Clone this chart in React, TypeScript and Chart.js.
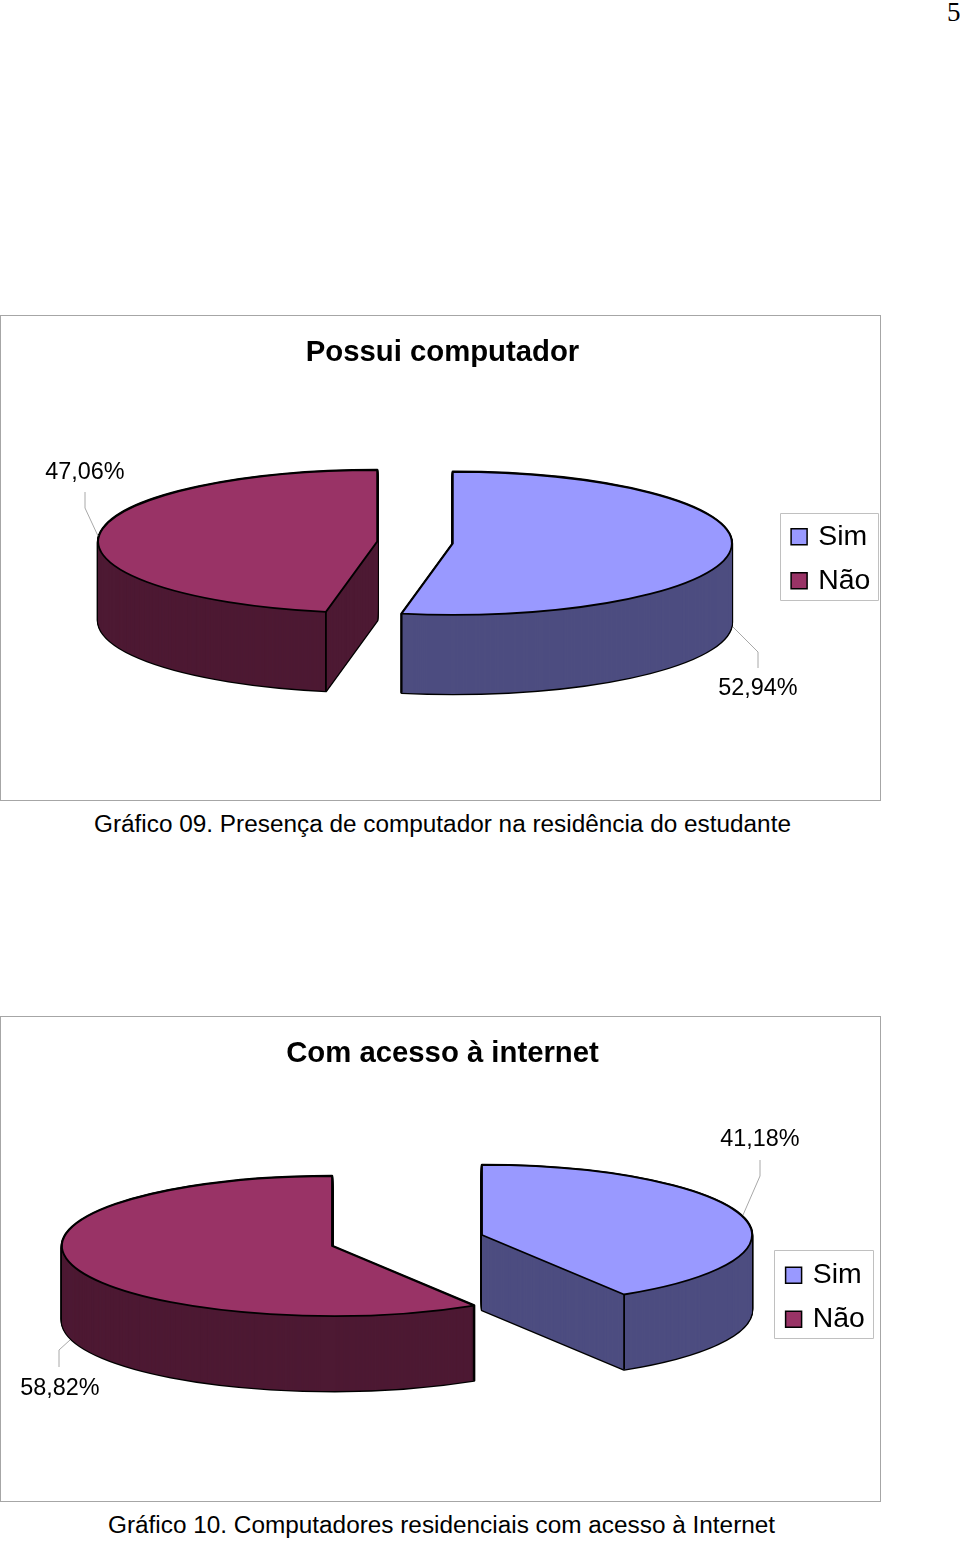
import React, { useEffect, useRef } from "react";
import { Chart, registerables } from "chart.js";

Chart.register(...registerables);

const categories = ["Sim", "Não"];
const computerValues = [52.94, 47.06];
const internetValues = [41.18, 58.82];
const sliceColors = ["#9999FF", "#993366"];
const sideColors = ["#4D4D80", "#4D1933"];
const FONT = "'Liberation Sans', Arial, sans-serif";

type Layout = {
  title: string;
  values: number[];
  top: number;
  cx: number;
  cy: number;
  radius: number;
  squash: number;
  depth: number;
  explode: number;
  titleShift: number;
  titleTop: number;
  legendLeft: number;
  legendTop: number;
  legendBox: number[];
  labels: { x: number; y: number; leader: number[][] }[];
};

const charts: Layout[] = [
  {
    title: "Possui computador",
    values: computerValues,
    top: 315,
    cx: 415,
    cy: 227.5,
    radius: 279,
    squash: 71.5 / 279,
    depth: 79,
    explode: 38,
    titleShift: 2,
    titleTop: 20.4,
    legendLeft: 778.5,
    legendTop: 192,
    legendBox: [780.5, 198.5, 98, 87],
    labels: [
      { x: 758, y: 374, leader: [[733, 312], [758, 337], [758, 353]] },
      { x: 85, y: 158, leader: [[85, 177], [85, 193], [98, 221]] },
    ],
  },
  {
    title: "Com acesso à internet",
    values: internetValues,
    top: 1016,
    cx: 407,
    cy: 224.5,
    radius: 270,
    squash: 70 / 270,
    depth: 75,
    explode: 78,
    titleShift: 2,
    titleTop: 20.4,
    legendLeft: 773,
    legendTop: 229.5,
    legendBox: [774.5, 234.5, 99, 88],
    labels: [
      { x: 760, y: 124, leader: [[760, 144], [760, 160], [743, 199]] },
      { x: 60, y: 373, leader: [[59, 351], [59, 334], [70, 324]] },
    ],
  },
];

function pie3d(cfg: Layout) {
  const place = (ctx: any, el: any, down: number) => {
    const mid = (el.startAngle + el.endAngle) / 2;
    ctx.translate(cfg.explode * Math.cos(mid), cfg.explode * Math.sin(mid) * cfg.squash + down);
    ctx.translate(0, el.y);
    ctx.scale(1, cfg.squash);
    ctx.translate(0, -el.y);
  };
  const trace = (ctx: any, el: any, down: number) => {
    ctx.save();
    place(ctx, el, down);
    ctx.beginPath();
    ctx.moveTo(el.x, el.y);
    ctx.arc(el.x, el.y, el.outerRadius, el.startAngle, el.endAngle);
    ctx.closePath();
    ctx.restore();
  };
  const fill = (ctx: any, el: any, down: number, color?: string) => {
    const saved = el.options;
    if (color) el.options = Object.assign(Object.create(saved), { backgroundColor: color });
    ctx.save();
    place(ctx, el, down);
    el.draw(ctx);
    ctx.restore();
    el.options = saved;
  };
  return {
    id: "pie3d",
    afterLayout(chart: any) {
      Object.assign(chart.chartArea, {
        left: 0,
        top: 0,
        right: cfg.cx * 2,
        bottom: cfg.cy * 2,
        width: cfg.cx * 2,
        height: cfg.cy * 2,
      });
      const t = chart.titleBlock;
      t.left += cfg.titleShift;
      t.right += cfg.titleShift;
      const l = chart.legend;
      l.left = cfg.legendLeft;
      l.right = cfg.legendLeft + 110;
      l.top = cfg.legendTop;
      l.bottom = cfg.legendTop + 110;
    },
    beforeDatasetDraw(chart: any, args: any) {
      const ctx = chart.ctx;
      ctx.lineJoin = "round";
      args.meta.data.forEach((el: any, i: number) => {
        ctx.strokeStyle = "#000";
        ctx.lineWidth = 2.6;
        for (let d = cfg.depth; d >= 0; d -= 1) {
          trace(ctx, el, d);
          ctx.stroke();
        }
        for (let d = cfg.depth; d >= 0; d -= 1) fill(ctx, el, d, sideColors[i]);
      });
      args.meta.data.forEach((el: any) => {
        ctx.strokeStyle = "#000";
        ctx.lineWidth = 1.8;
        const mid = (el.startAngle + el.endAngle) / 2;
        [el.startAngle, el.endAngle].forEach((a: number) => {
          if (Math.sin(a) <= 0) return;
          const x = el.x + cfg.explode * Math.cos(mid) + el.outerRadius * Math.cos(a);
          const y = el.y + cfg.squash * (cfg.explode * Math.sin(mid) + el.outerRadius * Math.sin(a));
          ctx.beginPath();
          ctx.moveTo(x, y);
          ctx.lineTo(x, y + cfg.depth);
          ctx.stroke();
        });
        fill(ctx, el, 0);
        trace(ctx, el, 0);
        ctx.stroke();
      });
      return false;
    },
    afterDraw(chart: any) {
      const ctx = chart.ctx;
      ctx.save();
      ctx.strokeStyle = "#c0c0c0";
      ctx.lineWidth = 1;
      const [bx, by, bw, bh] = cfg.legendBox;
      ctx.strokeRect(bx, by, bw, bh);
      cfg.labels.forEach((lab, i) => {
        ctx.strokeStyle = "#a8a8a8";
        ctx.lineWidth = 1;
        ctx.beginPath();
        lab.leader.forEach(([x, y], j) => (j ? ctx.lineTo(x, y) : ctx.moveTo(x, y)));
        ctx.stroke();
        ctx.fillStyle = "#000";
        ctx.font = `23.4px ${FONT}`;
        ctx.textAlign = "center";
        ctx.textBaseline = "middle";
        ctx.fillText(`${cfg.values[i].toFixed(2).replace(".", ",")}%`, lab.x, lab.y);
      });
      ctx.restore();
    },
  };
}

function Pie({ cfg }: { cfg: Layout }) {
  const ref = useRef<HTMLCanvasElement>(null);
  useEffect(() => {
    const chart = new Chart(ref.current as HTMLCanvasElement, {
      type: "doughnut",
      data: {
        labels: categories,
        datasets: [
          {
            data: cfg.values,
            backgroundColor: sliceColors,
            borderWidth: 0,
            clip: false,
          } as any,
        ],
      },
      options: {
        responsive: false,
        animation: false,
        cutout: 0,
        radius: cfg.radius,
        layout: { padding: 0 },
        plugins: {
          tooltip: { enabled: false },
          title: {
            display: true,
            text: cfg.title,
            color: "#000",
            font: { family: FONT, size: 29.3, weight: "bold" },
            padding: { top: cfg.titleTop, bottom: 0 },
          },
          legend: {
            position: "chartArea",
            align: "start",
            labels: {
              color: "#000",
              font: { family: FONT, size: 28.4 },
              usePointStyle: true,
              pointStyle: "rect",
              boxWidth: 10,
              boxHeight: 16,
              padding: 15.6,
              generateLabels: (c: any) =>
                (Chart as any).overrides.doughnut.plugins.legend.labels
                  .generateLabels(c)
                  .map((item: any) => ({ ...item, strokeStyle: "#000", lineWidth: 1.5 })),
            },
          },
        },
      } as any,
      plugins: [pie3d(cfg) as any],
    });
    return () => chart.destroy();
  }, [cfg]);
  return (
    <div
      style={{
        position: "absolute",
        left: 0,
        top: cfg.top,
        width: 881,
        height: 486,
        boxShadow: "inset 0 0 0 1px #a6a6a6",
      }}
    >
      <canvas ref={ref} width={881} height={486} style={{ display: "block" }} />
    </div>
  );
}

const captionStyle: React.CSSProperties = {
  position: "absolute",
  fontFamily: FONT,
  fontSize: 24.35,
  lineHeight: "28px",
  whiteSpace: "nowrap",
  color: "#000",
};

export default function App() {
  return (
    <div style={{ position: "absolute", left: 0, top: 0, width: 960, height: 1541, background: "#fff", overflow: "hidden" }}>
      <div style={{ position: "absolute", left: 947, top: -3, fontFamily: "'Liberation Serif', serif", fontSize: 27, color: "#000" }}>5</div>
      {charts.map((c) => (
        <Pie key={c.title} cfg={c} />
      ))}
      <div style={{ ...captionStyle, left: 94, top: 810 }}>Gráfico 09. Presença de computador na residência do estudante</div>
      <div style={{ ...captionStyle, left: 108, top: 1511 }}>Gráfico 10. Computadores residenciais com acesso à Internet</div>
    </div>
  );
}
